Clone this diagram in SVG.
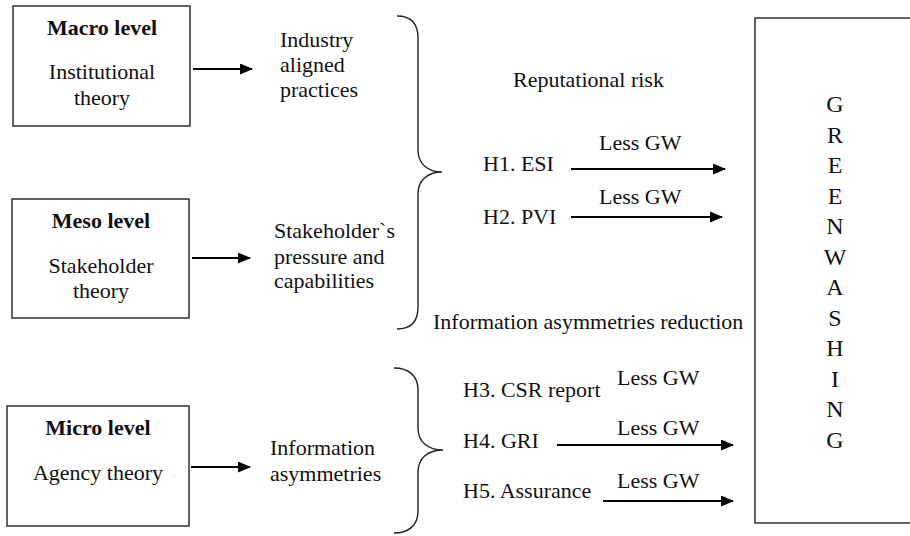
<svg xmlns="http://www.w3.org/2000/svg" width="910" height="536" viewBox="0 0 910 536">
<defs>
<style>
text{font-size:22px;fill:#111}
.b{font-weight:bold}
.c{text-anchor:middle}
.box{fill:#fff;stroke:#222;stroke-width:1.4}
.br{fill:none;stroke:#222;stroke-width:1.4}
.ar{stroke:#000;stroke-width:2;fill:none;marker-end:url(#ah)}
.gw{font-size:24px;text-anchor:middle}
</style>
<marker id="ah" viewBox="0 0 13 11" refX="12" refY="5.5" markerWidth="13" markerHeight="11" markerUnits="userSpaceOnUse" orient="auto">
<path d="M0,0 L13,5.5 L0,11 Z" fill="#000"/>
</marker>
</defs>
<rect width="910" height="536" fill="#fff"/>
<g font-family="'Liberation Serif', 'Times New Roman', serif">
<g id="macro">
<rect class="box" x="13" y="6" width="177" height="120"/>
<text class="b c" x="102" y="35">Macro level</text>
<text class="c" x="102" y="79">Institutional</text>
<text class="c" x="102" y="105">theory</text>
</g>
<g id="meso">
<rect class="box" x="12" y="199" width="177" height="119"/>
<text class="b c" x="101" y="228">Meso level</text>
<text class="c" x="101" y="273">Stakeholder</text>
<text class="c" x="101" y="298">theory</text>
</g>
<g id="micro">
<rect class="box" x="7" y="406" width="182" height="120"/>
<text class="b c" x="98" y="435">Micro level</text>
<text class="c" x="98" y="480">Agency theory</text>
</g>

<g id="industry">
<text x="280" y="47">Industry</text>
<text x="280" y="72">aligned</text>
<text x="280" y="97">practices</text>
</g>
<g id="stakeholder">
<text x="274" y="238">Stakeholder`s</text>
<text x="274" y="264">pressure and</text>
<text x="274" y="288">capabilities</text>
</g>
<g id="info">
<text x="270" y="455">Information</text>
<text x="270" y="481">asymmetries</text>
</g>

<g id="braces">
<path class="br" d="M397,16 C410,16 418,22 418,38 L418,150 C418,164 428,172 442,172 C428,172 418,180 418,194 L418,307 C418,322 410,329 397,329"/>
<path class="br" d="M394,368 C408,368 418,375 418,390 L418,428 C418,442 428,450 443,450 C428,450 418,458 418,472 L418,511 C418,526 408,533 394,533"/>
</g>

<g id="labels">
<text x="513" y="87">Reputational risk</text>
<text x="433" y="329">Information asymmetries reduction</text>
</g>

<g id="h1"><text x="483" y="171">H1. ESI</text><text x="599" y="150">Less GW</text></g>
<g id="h2"><text x="483" y="224">H2. PVI</text><text x="599" y="204">Less GW</text></g>
<g id="h3"><text x="463" y="397">H3. CSR report</text><text x="617" y="385">Less GW</text></g>
<g id="h4"><text x="463" y="448">H4. GRI</text><text x="617" y="435">Less GW</text></g>
<g id="h5"><text x="463" y="498">H5. Assurance</text><text x="617" y="488">Less GW</text></g>

<g id="connectors">
<line class="ar" x1="193" y1="69" x2="252" y2="69"/>
<line class="ar" x1="192" y1="258" x2="250" y2="258"/>
<line class="ar" x1="191" y1="467" x2="250" y2="467"/>
<line class="ar" x1="571" y1="169" x2="725" y2="169"/>
<line class="ar" x1="571" y1="217" x2="722" y2="217"/>
<line class="ar" x1="557" y1="445" x2="733" y2="445"/>
<line class="ar" x1="603" y1="501" x2="733" y2="501"/>
</g>

<g id="greenwashing">
<rect class="box" x="755" y="18" width="170" height="505"/>
<text class="gw" x="835" y="112">G</text>
<text class="gw" x="835" y="142.5">R</text>
<text class="gw" x="835" y="173">E</text>
<text class="gw" x="835" y="203.5">E</text>
<text class="gw" x="835" y="234">N</text>
<text class="gw" x="835" y="264.5">W</text>
<text class="gw" x="835" y="295">A</text>
<text class="gw" x="835" y="325.5">S</text>
<text class="gw" x="835" y="356">H</text>
<text class="gw" x="835" y="386.5">I</text>
<text class="gw" x="835" y="417">N</text>
<text class="gw" x="835" y="447.5">G</text>
</g>
</g>
</svg>
